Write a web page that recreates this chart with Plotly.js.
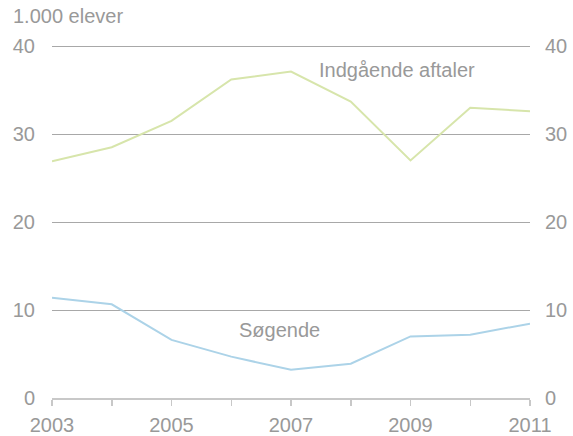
<!DOCTYPE html>
<html>
<head>
<meta charset="utf-8">
<script src="https://cdn.plot.ly/plotly-3.0.1.min.js"></script>
<style>html,body{margin:0;padding:0;background:#fff;}#chart{width:573px;height:436px;}</style>
</head>
<body>
<div id="chart"></div>
<script>
const years = [2003, 2004, 2005, 2006, 2007, 2008, 2009, 2010, 2011];
const yearLabels = ["2003", "", "2005", "", "2007", "", "2009", "", "2011"];
const indgaaende = [26.9, 28.5, 31.5, 36.2, 37.1, 33.7, 27.0, 33.0, 32.6];
const soegende = [11.4, 10.65, 6.6, 4.7, 3.2, 3.9, 7.0, 7.2, 8.45];
const yTicks = [0, 10, 20, 30, 40];

const txt = '#999999';
const fs = 20;
const traces = [
  {x: years, y: indgaaende, type: 'scatter', mode: 'lines', line: {color: '#d7e5ab', width: 2}, hoverinfo: 'skip'},
  {x: years, y: soegende, type: 'scatter', mode: 'lines', line: {color: '#acd3e8', width: 2}, hoverinfo: 'skip'},
  {x: years, y: soegende, type: 'scatter', mode: 'lines', yaxis: 'y2', line: {width: 0}, opacity: 0, hoverinfo: 'skip'}
];
const layout = {
  width: 573, height: 436,
  margin: {l: 52, r: 43, t: 43, b: 38},
  paper_bgcolor: '#fff', plot_bgcolor: '#fff',
  showlegend: false,
  font: {family: 'Liberation Sans, Arial, sans-serif', size: fs, color: txt},
  xaxis: {
    range: [2003, 2011], tickvals: years, ticktext: yearLabels,
    ticks: 'outside', ticklen: 6, tickcolor: '#c8c8c8', tickwidth: 1.5,
    showgrid: false, zeroline: false, showline: true, linecolor: '#c8c8c8', linewidth: 1.5,
    ticklabelstandoff: 2,
    tickfont: {size: fs, color: txt}, fixedrange: true
  },
  yaxis: {
    range: [0, 40.35], tickvals: yTicks, showgrid: true, gridcolor: '#a8a8a8', gridwidth: 1,
    zeroline: false, showline: false, ticks: '', ticklabelstandoff: 16,
    tickfont: {size: fs, color: txt}, fixedrange: true
  },
  yaxis2: {
    range: [0, 40.35], tickvals: yTicks, overlaying: 'y', side: 'right', showgrid: false,
    zeroline: false, showline: false, ticks: '', ticklabelstandoff: 14,
    tickfont: {size: fs, color: txt}, fixedrange: true
  },
  annotations: [
    {text: '1.000 elever', xref: 'paper', yref: 'paper', x: -0.085, y: 1.075, xanchor: 'left', yanchor: 'middle', showarrow: false, font: {size: fs, color: txt}},
    {text: 'Indgående aftaler', xref: 'x', yref: 'y', x: 2008.78, y: 37.3, xanchor: 'center', yanchor: 'middle', showarrow: false, font: {size: fs, color: txt}},
    {text: 'Søgende', xref: 'x', yref: 'y', x: 2006.8, y: 7.7, xanchor: 'center', yanchor: 'middle', showarrow: false, font: {size: fs, color: txt}}
  ]
};
Plotly.newPlot('chart', traces, layout, {displayModeBar: false, staticPlot: true});
</script>
</body>
</html>
